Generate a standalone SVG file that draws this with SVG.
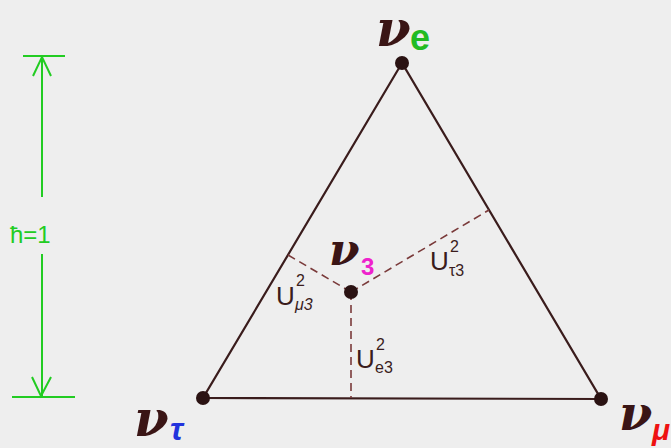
<svg xmlns="http://www.w3.org/2000/svg" width="671" height="448" viewBox="0 0 671 448">
<defs>
<style>
.edge{stroke:#3a1c1c;stroke-width:2.2;fill:none;stroke-linecap:round}
.dash{stroke:#7a3a3a;stroke-width:1.6;fill:none;stroke-dasharray:8 5}
.dot{fill:#2a1212}
.nu{font-family:"DejaVu Serif",serif;font-style:italic;font-weight:bold;fill:#3a1515}
.sub{font-family:"Liberation Sans",sans-serif;font-weight:bold}
.u{font-family:"Liberation Sans",sans-serif;fill:#3a1c1c}
.scale{stroke:#22cc22;stroke-width:2;fill:none}
</style>
</defs>
<rect width="671" height="448" fill="#eeeeee"/>
<g id="scale">
<line class="scale" x1="42" y1="57" x2="42" y2="197"/>
<line class="scale" x1="42" y1="254" x2="42" y2="397"/>
<line class="scale" x1="23" y1="56" x2="65" y2="56"/>
<line class="scale" x1="12" y1="397" x2="75" y2="397"/>
<polyline class="scale" points="33,76 42,57 51,76"/>
<polyline class="scale" points="32,377 41,396 51,377"/>
<text x="10" y="243" font-family="Liberation Sans, sans-serif" font-size="24" fill="#22cc22">ħ=1</text>
</g>
<g id="connectors">
<polygon class="edge" points="402,63 203,398 601,399"/>
<line class="dash" x1="351" y1="292" x2="351" y2="398"/>
<line class="dash" x1="351" y1="292" x2="288" y2="255"/>
<line class="dash" x1="351" y1="292" x2="489" y2="210"/>
</g>
<g id="node-e">
<circle class="dot" cx="402" cy="63" r="7"/>
<text class="nu" x="376" y="46" font-size="50">ν</text>
<text class="sub" x="410" y="50" font-size="36" fill="#22bb22">e</text>
</g>
<g id="node-tau">
<circle class="dot" cx="203" cy="398" r="7"/>
<text class="nu" x="134" y="436" font-size="50">ν</text>
<text class="sub" x="170" y="440" font-size="32" fill="#2233dd" font-style="italic">τ</text>
</g>
<g id="node-mu">
<circle class="dot" cx="601" cy="399" r="7"/>
<text class="nu" x="619" y="430" font-size="48">ν</text>
<text class="sub" x="652" y="440" font-size="30" fill="#ee1111" font-style="italic">μ</text>
</g>
<g id="node-3">
<circle class="dot" cx="351" cy="292" r="7"/>
<text class="nu" x="329" y="265" font-size="44">ν</text>
<text class="sub" x="361" y="275" font-size="24" fill="#ee22cc">3</text>
</g>
<g id="labels">
<text class="u" x="276" y="305" font-size="26">U</text>
<text class="u" x="296" y="286" font-size="16">2</text>
<text class="u" x="295" y="310" font-size="16" font-style="italic">μ3</text>
<text class="u" x="356" y="368" font-size="26">U</text>
<text class="u" x="376" y="350" font-size="16">2</text>
<text class="u" x="375" y="373" font-size="16">e3</text>
<text class="u" x="430" y="270" font-size="26">U</text>
<text class="u" x="450" y="252" font-size="16">2</text>
<text class="u" x="449" y="276" font-size="16">τ3</text>
</g>
</svg>
